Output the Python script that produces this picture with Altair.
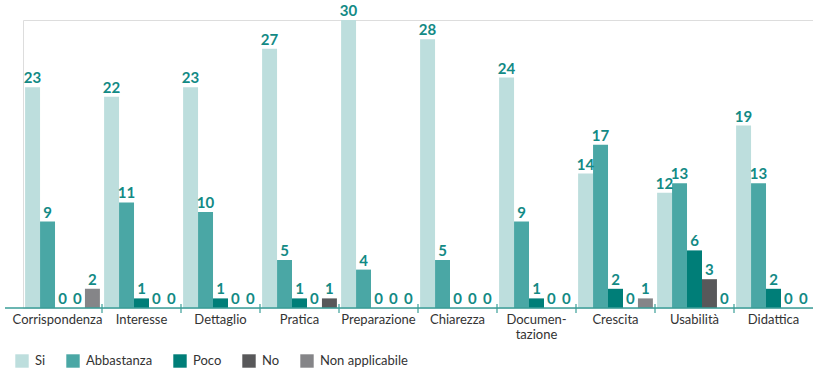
import altair as alt
import pandas as pd

# Survey answers per evaluation criterion
categories = ["Corrispondenza", "Interesse", "Dettaglio", "Pratica", "Preparazione",
              "Chiarezza", "Documentazione", "Crescita", "Usabilità", "Didattica"]
series = ["Si", "Abbastanza", "Poco", "No", "Non applicabile"]
si = [23, 22, 23, 27, 30, 28, 24, 14, 12, 19]
abbastanza = [9, 11, 10, 5, 4, 5, 9, 17, 13, 13]
poco = [0, 1, 1, 1, 0, 0, 1, 2, 6, 2]
no = [0, 0, 0, 0, 0, 0, 0, 0, 3, 0]
non_applicabile = [2, 0, 0, 1, 0, 0, 0, 1, 0, 0]
colors = ["#bddedd", "#4aa7a5", "#007e78", "#58585a", "#858588"]
# the Pratica "Non applicabile" bar is printed in the "No" shade
shade_override = {("Pratica", "Non applicabile"): "No"}

values = [si, abbastanza, poco, no, non_applicabile]
rows = []
for s, vals in zip(series, values):
    for c, v in zip(categories, vals):
        rows.append({"cat": c, "series": s, "value": v,
                     "shade": shade_override.get((c, s), s)})
df = pd.DataFrame(rows)

W, H = 790, 288
font = "Lato"
teal = "#138a85"

x = alt.X("cat:N", sort=categories,
          scale=alt.Scale(paddingInner=0, paddingOuter=0),
          axis=alt.Axis(title=None, labelAngle=0, ticks=False, domain=False,
                        labelFont=font, labelFontSize=13, labelColor="#333333",
                        labelPadding=5, labelLineHeight=15,
                        labelOffset={"condition": {"test": "datum.value == 'Corrispondenza'",
                                                   "value": -5},
                                     "value": 0},
                        labelExpr="datum.label == 'Documentazione' ? ['Documen-', 'tazione'] : datum.label"))
xoff = alt.XOffset("series:N", sort=series,
                   scale=alt.Scale(paddingInner=0, paddingOuter=0.14))
y = alt.Y("value:Q", scale=alt.Scale(domain=[0, 30], nice=False), axis=None)

bars = alt.Chart(df).mark_bar().encode(
    x=x, xOffset=xoff, y=y,
    color=alt.Color("shade:N",
                    scale=alt.Scale(domain=series, range=colors),
                    legend=alt.Legend(title=None, orient="none", direction="horizontal",
                                      legendX=-8, legendY=334,
                                      symbolType="square", symbolSize=180,
                                      symbolStrokeWidth=0, symbolOpacity=1,
                                      labelFont=font, labelFontSize=13,
                                      labelColor="#333333", labelOffset=6,
                                      columnPadding=20)),
)

labels = alt.Chart(df).mark_text(
    baseline="alphabetic", dy=-4, font=font, fontSize=15, fontWeight="bold", color=teal
).encode(x=x, xOffset=xoff, y=y, text=alt.Text("value:Q"))

baseline = alt.Chart(pd.DataFrame({"k": [0]})).mark_rule(
    color="#3a9e98", strokeWidth=1.5
).encode(x=alt.value(-18), x2=alt.value(W), y=alt.value(H))

bounds = pd.DataFrame({"cat": categories[1:]})
ticks = alt.Chart(bounds).mark_rule(color="#3a9e98", strokeWidth=1.2).encode(
    x=alt.X("cat:N", sort=categories, bandPosition=0,
            scale=alt.Scale(paddingInner=0, paddingOuter=0)),
    y=alt.value(H - 4), y2=alt.value(H + 5),
)

chart = alt.layer(bars, baseline, ticks, labels).properties(
    width=W, height=H,
    autosize=alt.AutoSizeParams(type="none"),
    padding={"left": 23, "top": 20, "right": 0, "bottom": 60},
).configure_view(stroke=None).configure(background="white")

chart.save("out.html", embed_options={"renderer": "svg", "actions": False})
